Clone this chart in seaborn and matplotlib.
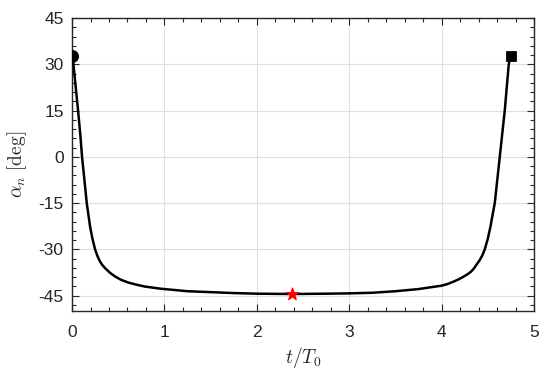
import matplotlib
matplotlib.use("Agg")
import matplotlib.pyplot as plt
import seaborn as sns
import pandas as pd
from matplotlib.ticker import MultipleLocator

# 곡선 값
t = [0, 0.015, 0.04, 0.065, 0.09, 0.108, 0.134, 0.159, 0.195, 0.22, 0.249, 0.275,
     0.303, 0.33, 0.357, 0.41, 0.465, 0.53, 0.61, 0.70, 0.79, 0.963, 1.25, 1.5,
     1.75, 2.0, 2.375, 2.75, 3.0, 3.25, 3.5, 3.75, 4.0, 4.06, 4.12, 4.18, 4.23,
     4.28, 4.32, 4.35, 4.377, 4.41, 4.44, 4.467, 4.50, 4.528, 4.55, 4.575, 4.629,
     4.683, 4.726, 4.748]
alpha = [32.8, 30, 22.5, 15, 7, 0, -7.5, -15, -22.6, -26.5, -30, -32.2,
         -34.0, -35.2, -36.1, -37.6, -38.8, -39.9, -40.8, -41.5, -42.1, -42.8, -43.6, -43.9,
         -44.2, -44.4, -44.5, -44.4, -44.3, -44.1, -43.6, -42.9, -41.8, -41.3, -40.6, -39.8, -39.0,
         -38.1, -37.2, -36.2, -35.0, -33.6, -32.0, -30, -26.5, -22.7, -19.0, -15, 0,
         15, 30, 32.8]
start_pt = (0, 32.8)
end_pt = (4.748, 32.8)
min_pt = (2.375, -44.5)

xticks = [0, 1, 2, 3, 4, 5]
yticks = [-45, -30, -15, 0, 15, 30, 45]

df = pd.DataFrame({"t": t, "alpha": alpha})

sns.set_style("ticks")
plt.rcParams['font.family'] = ['Liberation Sans', 'DejaVu Sans']
plt.rcParams['mathtext.fontset'] = 'cm'
plt.rcParams['axes.unicode_minus'] = False

fig = plt.figure(figsize=(5.5, 3.76), dpi=100)
ax = fig.add_axes([0.131, 0.173, 0.84, 0.779])

ax.grid(True, color='#dedede', linewidth=0.8, zorder=0)
sns.lineplot(data=df, x="t", y="alpha", sort=False, color='black', linewidth=1.8, ax=ax, zorder=3)
sns.scatterplot(x=[start_pt[0]], y=[start_pt[1]], marker='o', s=75, color='black', edgecolor='black', ax=ax, zorder=4)
sns.scatterplot(x=[end_pt[0]], y=[end_pt[1]], marker='s', s=50, color='black', edgecolor='black', ax=ax, zorder=4)
sns.scatterplot(x=[min_pt[0]], y=[min_pt[1]], marker='*', s=90, color='red', edgecolor='red', ax=ax, zorder=5)

ax.set_xlim(0, 5)
ax.set_ylim(-50, 45)
ax.set_xticks(xticks)
ax.set_yticks(yticks)
ax.xaxis.set_minor_locator(MultipleLocator(0.2))
ax.yaxis.set_minor_locator(MultipleLocator(3))
ax.tick_params(which='both', direction='in', top=True, right=True, colors='#262626', labelcolor='#262626', labelsize=12.5)
ax.tick_params(which='major', length=5, width=0.8)
ax.tick_params(which='minor', length=3, width=0.8)
ax.tick_params(axis='x', pad=10)
ax.tick_params(axis='y', pad=6)
for s in ax.spines.values():
    s.set_color('#262626')
    s.set_linewidth(1.0)

ax.set_xlabel(r'$t/T_0$', fontsize=14, labelpad=4)
ax.set_ylabel(r'$\alpha_n\ \mathrm{[deg]}$', fontsize=14, labelpad=7)

fig.savefig('out.png', dpi=100)
